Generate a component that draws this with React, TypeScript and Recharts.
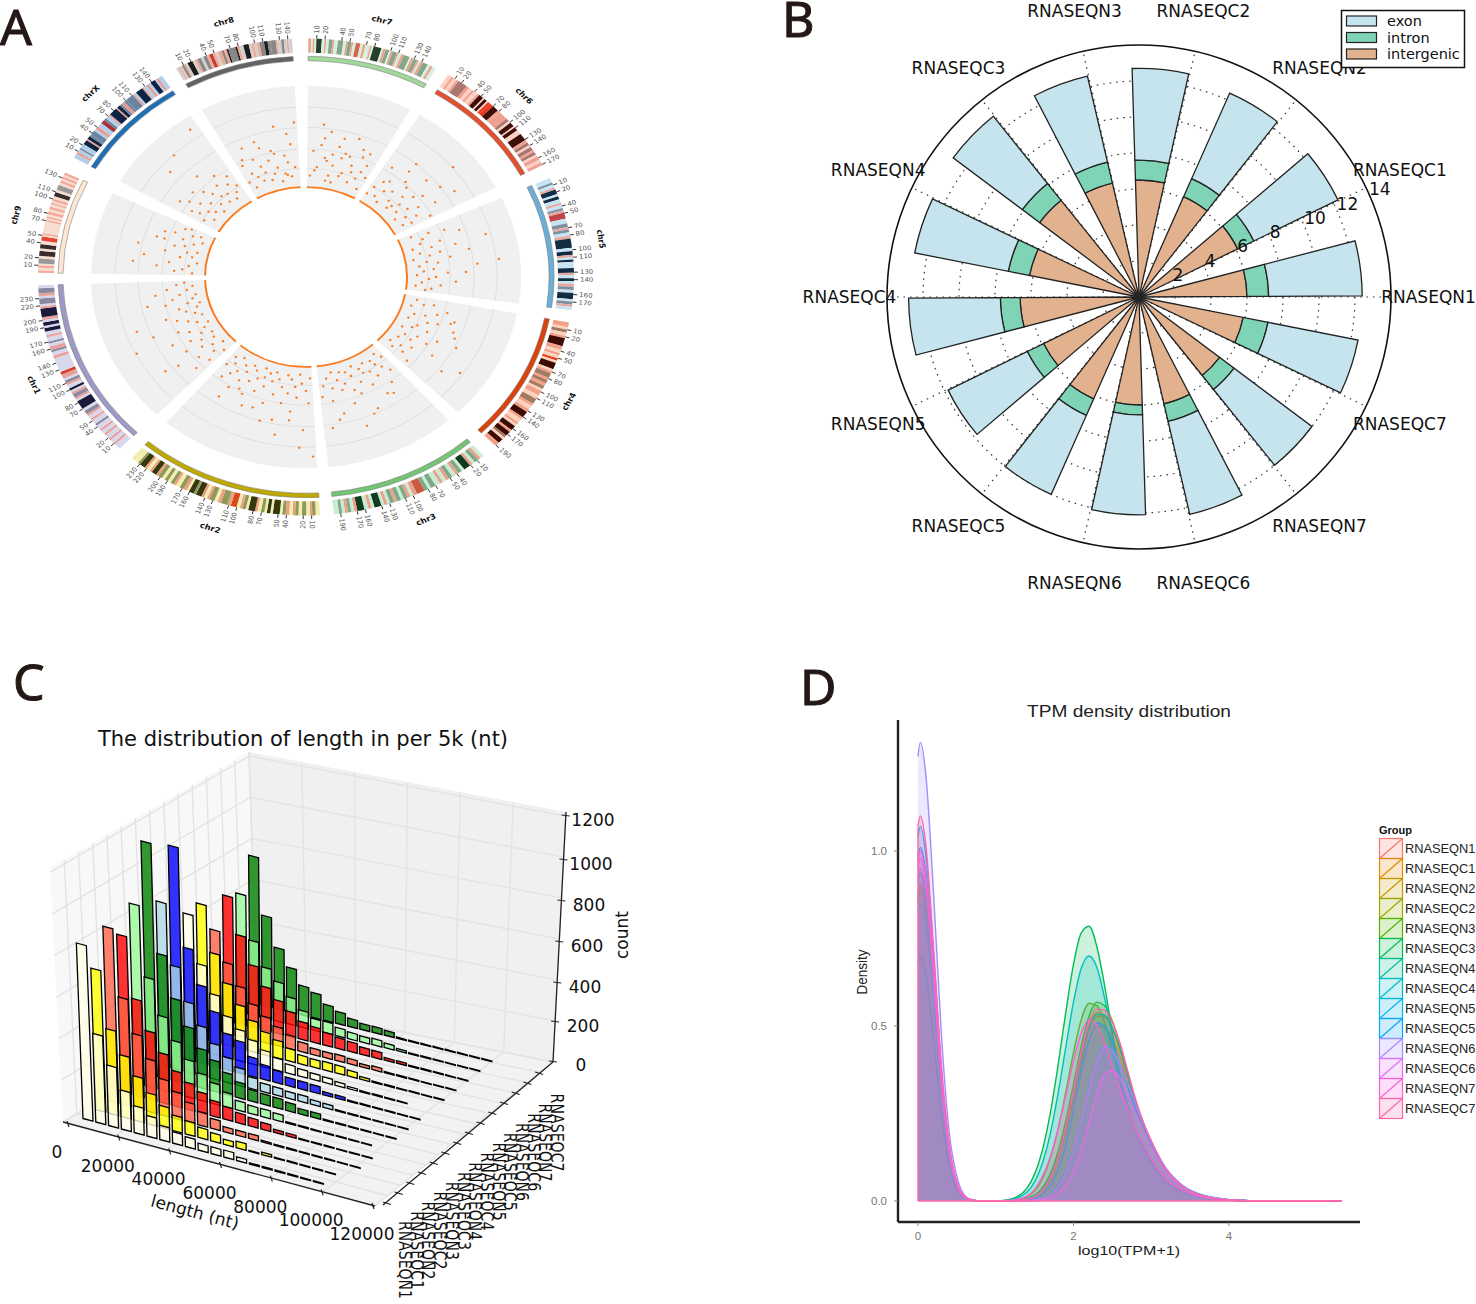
import React from 'react';
import {
  PieChart, Pie, ScatterChart, Scatter, XAxis, YAxis, RadialBarChart, RadialBar, PolarAngleAxis,
  PolarRadiusAxis, PolarGrid, AreaChart, Area, ReferenceLine,
} from 'recharts';

/* ---------- Panel A data ---------- */
const chrNames = ['chr7', 'chr6', 'chr5', 'chr4', 'chr3', 'chr2', 'chr1', 'chr9', 'chrX', 'chr8'];
const chrStart = [0.5, 32, 65.5, 101, 138.5, 177, 224, 271, 300, 331];
const chrEnd = [29, 62, 98, 135, 174, 220.5, 268, 296, 327.5, 357];
const chrLength = [159, 171, 181, 191, 198, 242, 248, 138, 155, 145];
const chrRing = ['#a1d99b', '#e2502f', '#6baed6', '#d8430f', '#74c476', '#bfa800', '#9e9ac8', '#fde6d2', '#1f6db3', '#636363'];
const ticksShort = [10, 20, 40, 50, 70, 80, 100, 110, 130, 140];
const ticksMid = [10, 20, 40, 50, 70, 80, 100, 110, 130, 140, 160, 170];
const ticksLong = [10, 20, 40, 50, 70, 80, 100, 110, 130, 140, 160, 170, 190];
const ticksFull = [10, 20, 40, 50, 70, 80, 100, 110, 130, 140, 160, 170, 190, 200, 220, 230];
const ticks9 = [10, 20, 40, 50, 70, 80, 100, 110, 130];
const chrTicks = [ticksShort, ticksMid, ticksMid, ticksLong, ticksLong, ticksFull, ticksFull, ticks9, ticksShort, ticksShort];
// band colours: base, stripe, mid, dark, red
const chrShades = [
  ['#d5f0dd', '#e8a48e', '#86a58b', '#22402a', '#d9654a'],
  ['#fdd0c4', '#f0a090', '#a87870', '#400e08', '#e83a1c'],
  ['#c6e4f2', '#e8a8a0', '#7f8fa0', '#122c44', '#c04448'],
  ['#fcd2bc', '#f2a088', '#a47a62', '#3c0c02', '#ee3a1a'],
  ['#c8ecd2', '#eba08a', '#7ea888', '#123c20', '#cc5a40'],
  ['#f3eeb0', '#eaa080', '#8f9a5a', '#34380c', '#d8481a'],
  ['#d8d8ec', '#e8a09a', '#8a88a0', '#1c1a3a', '#d8402c'],
  ['#f5ddd0', '#f3a899', '#999999', '#3a2c2c', '#e8453a'],
  ['#b3cfe8', '#e89a90', '#6b85a0', '#0c2344', '#a8303a'],
  ['#d0d0d0', '#f0a896', '#888888', '#1c1c1c', '#c83a30'],
];
const bands7 = [3,1,2,0,2,1,2,0,6,3,3,0,2,1,3,0,4,2,2,1,4,0,6,2,3,0,2,1,4,2,2,1,3,0,5,4,3,0,3,1,5,0,2,1,2,0,9,3,2,0,3,1,4,2,2,0,2,1,5,2,2,1,3,0,3,1,7,2,2,0,3,1,4,2,2,1,2,0,3,1,6,2,3,0,3,1,4,0];
const bands6 = [5,0,3,1,4,0,3,1,12,2,4,1,4,0,3,1,5,0,3,1,6,3,2,0,4,3,2,0,3,4,5,4,8,3,3,1,12,1,4,2,3,0,6,3,2,0,5,3,6,0,10,3,4,1,4,2,3,0,5,2,3,1,4,2,3,0,5,1,4,0,4,1];
const bands5 = [6,0,3,2,4,0,3,1,6,3,3,0,4,3,5,0,3,1,4,0,3,2,3,1,8,4,6,0,5,2,3,1,4,2,4,0,4,1,12,3,4,0,5,3,3,1,3,0,3,3,8,0,6,3,3,1,4,0,4,3,3,0,4,1,4,2,4,0,8,3,3,0,4,2,3,1,4,0];
const bands4 = [6,1,3,0,4,2,4,0,3,1,10,3,5,1,4,0,3,1,4,0,3,4,3,0,8,3,3,0,3,1,6,2,3,1,4,2,4,1,4,2,3,0,6,1,5,0,7,2,3,1,5,0,4,1,8,3,3,1,5,0,3,1,3,0,6,3,3,1,6,3,3,2,3,0,6,3,5,1];
const bands3 = [4,0,3,1,4,2,3,0,3,1,7,3,3,0,4,2,3,1,4,0,4,2,3,1,4,0,3,1,5,0,5,2,3,0,4,2,8,4,4,1,3,0,3,1,4,2,3,0,4,2,3,1,4,2,3,0,3,1,3,0,7,3,3,0,3,1,4,0,7,3,3,1,3,0,3,2,3,1,3,0,3,2,5,0];
const bands2 = [5,0,4,2,3,1,4,0,5,2,4,0,4,2,3,1,4,0,4,1,4,2,3,0,8,3,3,0,4,3,3,0,4,2,4,0,3,1,8,3,3,0,4,2,3,1,4,0,7,4,4,1,8,2,4,1,4,0,6,2,3,1,4,0,3,1,7,3,3,2,6,3,3,0,4,1,5,2,5,0,3,1,4,2,4,0,4,2,4,0,5,2,3,1,6,3,3,1,4,0,3,1,7,3,3,2,4,0,5,0];
const bands1 = [8,0,3,1,5,0,3,1,6,0,3,1,5,0,3,1,6,0,3,2,6,0,3,1,5,0,3,1,5,2,4,0,12,3,3,0,3,1,5,2,3,1,3,0,3,3,5,0,3,1,4,2,3,0,6,1,4,4,20,0,4,1,5,0,3,2,5,1,4,0,3,2,6,0,3,1,5,0,5,3,3,0,5,3,3,0,4,1,12,3,3,1,3,0,8,2,3,0,4,1,7,2,4,0];
const bands9 = [3,1,3,0,3,1,2,0,6,2,3,0,6,3,3,0,5,3,4,0,5,4,2,0,2,1,14,0,2,1,2,0,2,1,3,0,3,1,3,0,3,1,3,0,2,1,2,0,3,1,3,0,5,3,3,0,6,2,3,0,3,1,2,0,3,1,2,0,3,1];
const bands10 = [6,0,3,1,4,0,2,2,6,0,6,3,2,1,4,3,3,2,6,2,3,0,4,1,6,0,5,4,3,2,5,0,2,1,10,3,2,1,4,3,3,2,4,1,3,2,10,2,2,1,3,0,9,3,2,1,4,0,3,1,3,0,6,3,2,0,3,1,5,0];
const bands8 = [3,0,2,1,2,0,3,2,2,1,2,0,6,3,3,0,3,1,4,2,3,0,4,2,3,1,4,4,3,1,3,0,4,1,3,2,3,1,2,3,8,2,2,3,3,1,4,0,6,3,3,0,3,1,3,0,3,1,5,2,4,3,3,2,6,2,2,1,4,0,3,2,3,0,2,1,4,0];
const chrBands = [bands7, bands6, bands5, bands4, bands3, bands2, bands1, bands9, bands10, bands8];

const dots7 = [3,40,5,22,7,55,9,30,11,14,13,48,15,36,17,20,19,62,21,12,23,44,25,28,27,9,4,18,6,70,8,33,10,8,12,26,14,58,16,16,18,40,20,31,22,52,24,19,26,37,28,24,2,12,6,47,11,38,16,42,21,24,25,50,13,7,9,63];
const dots6 = [34,20,35,48,37,12,38,34,40,8,41,55,42,27,44,17,45,40,46,10,47,30,48,60,49,22,50,38,51,14,52,46,53,25,54,8,55,35,56,18,57,52,58,28,59,11,60,20,36,30,39,22,43,44,47,15,50,90,57,75,53,66,41,66,33,10,61,40];
const dots5 = [67,12,68,30,69,46,70,22,71,60,72,18,73,38,74,9,75,28,76,52,77,15,78,35,79,24,80,7,81,44,82,20,83,31,84,12,85,70,86,26,87,16,88,40,89,9,90,28,91,21,92,48,93,14,94,33,95,8,96,24,97,18,75,84,84,92,88,58,79,64];
const dots4 = [103,12,104,30,105,20,106,45,107,8,108,36,109,55,110,25,111,14,112,40,113,30,114,10,115,62,116,22,117,34,118,18,119,48,120,9,121,28,122,40,123,16,124,24,125,52,126,12,127,30,128,70,129,20,130,8,131,26,132,14,133,36,110,52,118,68,125,86,113,58];
const dots3 = [140,15,141,32,142,8,143,24,144,44,145,18,146,12,147,30,148,52,149,22,150,10,151,36,152,20,153,14,154,62,155,28,156,8,157,40,158,18,159,34,160,12,161,48,162,24,163,10,164,30,165,18,166,56,167,8,168,26,169,40,170,14,171,70,172,22,173,34,160,76,168,62,156,66,146,55];
const dots2 = [178,12,179,40,180,26,181,70,182,18,183,8,184,34,185,22,186,50,187,14,188,30,189,10,190,42,191,24,192,62,193,16,194,34,195,9,196,20,197,46,198,12,199,28,200,18,201,8,202,36,203,22,204,56,205,14,206,28,207,10,208,40,209,20,210,32,211,14,212,44,213,24,214,8,215,30,216,18,217,38,218,12,219,24,182,90,186,60,190,78,196,66,200,54,178,100,206,44,213,58];
const dots1 = [225,14,226,32,227,48,228,22,229,8,230,38,231,18,232,60,233,28,234,12,235,44,236,24,237,10,238,34,239,20,240,52,241,14,242,30,243,8,244,40,245,18,246,65,247,26,248,10,249,36,250,16,251,46,252,24,253,12,254,30,255,8,256,20,257,42,258,14,259,34,260,10,261,26,262,50,263,18,264,38,265,12,266,28,267,20,243,88,233,74,250,78,258,60];
const dots9 = [272,12,273,30,274,22,275,48,276,16,277,36,278,8,279,62,280,26,281,14,282,42,283,20,284,10,285,34,286,24,287,54,288,16,289,28,290,8,291,38,292,20,293,12,294,30,295,24,276,72,283,70,287,46,290,48];
const dots10 = [302,18,303,34,304,26,305,10,306,42,307,20,308,32,309,14,310,46,311,24,312,8,313,38,314,16,315,30,316,55,317,22,318,12,319,34,320,20,321,44,322,10,323,28,324,16,325,36,326,22,311,78,325,100,316,88,304,50];
const dots8 = [332,18,333,38,334,10,335,26,336,56,337,20,338,40,339,14,340,30,341,22,342,50,343,12,344,34,345,18,346,44,347,24,348,8,349,70,350,16,351,36,352,28,353,12,354,48,355,22,356,72,334,44,341,58,347,40,351,14,353,60];
const chrDots = [dots7, dots6, dots5, dots4, dots3, dots2, dots1, dots9, dots10, dots8];

/* ---------- Panel B data ---------- */
const sampleNames = ['RNASEQN1','RNASEQC1','RNASEQN2','RNASEQC2','RNASEQN3','RNASEQC3','RNASEQN4','RNASEQC4','RNASEQN5','RNASEQC5','RNASEQN6','RNASEQC6','RNASEQN7','RNASEQC7'];
const intergenic = [6.0,6.1,6.1,6.5,6.5,6.9,6.2,6.6,5.9,6.2,6.0,6.1,5.6,5.9];
const intron = [1.2,1.0,1.1,1.1,1.2,1.2,1.2,1.1,1.0,1.0,0.55,1.0,1.0,1.4];
const exon = [5.2,5.2,5.2,5.1,4.9,4.8,5.3,5.1,4.9,4.8,5.55,5.3,5.4,5.1];
const radialTicks = [2,4,6,8,10,12,14];

/* ---------- Panel C data ---------- */
const rowColors = ['#ffffe6','#ffff00','#ff6347','#ff0000','#98fb98','#008000','#add8e6','#0000ff','#ffffe6','#ffff00','#ff6347','#ff0000','#98fb98','#008000'];
const lenN1 = [852,430,294,190,131,100,70,55,48,33,33,34,18,6,6,5,5,4,4];
const lenC1 = [687,410,300,215,150,105,75,65,50,40,25,32,4,12,4,5,4,4,3];
const lenN2 = [847,520,360,255,175,130,95,65,48,24,24,24,7,5,5,4,4,4,3,3];
const lenC2 = [765,470,330,240,170,130,100,75,62,48,40,33,15,14,4,4,4,3,3,3];
const lenN3 = [872,530,360,255,180,130,100,70,45,38,38,33,6,5,4,4,4,3,3];
const lenC3 = [1130,600,400,280,190,150,105,75,55,50,48,40,25,25,5,5,4,4,3,3];
const lenN4 = [795,500,340,240,170,120,85,55,40,38,32,32,22,20,5,5,4,4,3,3];
const lenC4 = [1023,543,378,267,175,155,92,70,58,39,38,35,15,15,5,5,4,4,3,3];
const lenN5 = [650,420,290,200,150,115,80,58,42,35,30,26,18,10,5,5,4,3];
const lenC5 = [655,430,300,210,150,110,85,60,42,38,40,38,28,12,5,5,4,4,3,3];
const lenN6 = [485,340,240,170,125,90,65,45,30,28,30,25,14,18,5,5,4,3,3,3];
const lenC6 = [607,430,300,210,160,120,85,75,62,52,47,35,33,12,12,5,5,4,3,3];
const lenN7 = [573,360,245,190,130,80,55,55,40,32,28,30,22,10,5,5,4,3,3,3];
const lenC7 = [713,437,296,214,141,121,78,58,39,29,29,24,5,5,4,4,4,4,3,3];
const lengthRows = [lenN1,lenC1,lenN2,lenC2,lenN3,lenC3,lenN4,lenC4,lenN5,lenC5,lenN6,lenC6,lenN7,lenC7];
const lengthTicks = [0,20000,40000,60000,80000,100000,120000];
const countTicks = [0,200,400,600,800,1000,1200];

/* ---------- Panel D data ---------- */
const tpmX = [0,0.03,0.1,0.2,0.3,0.4,0.5,0.6,0.7,0.8,1.0,1.2,1.4,1.6,1.7,1.8,1.9,2.0,2.1,2.2,2.3,2.4,2.5,2.6,2.7,2.8,2.9,3.0,3.2,3.4,3.6,3.8,4.0,4.5,5.45];
const dN1 = [.92,.95,.88,.63,.34,.14,.045,.01,.002,0,0,.001,.006,.03,.062,.115,.19,.285,.385,.46,.50,.495,.465,.41,.34,.27,.215,.165,.085,.04,.018,.008,.003,0,0];
const dC1 = [.88,.91,.85,.6,.33,.135,.043,.01,.002,0,0,.001,.005,.028,.06,.115,.195,.295,.40,.485,.528,.525,.49,.43,.355,.28,.22,.17,.085,.04,.018,.008,.003,0,0];
const dN2 = [.87,.90,.84,.6,.32,.135,.042,.01,.002,0,0,.001,.005,.03,.065,.12,.205,.31,.415,.5,.538,.532,.495,.43,.355,.28,.22,.168,.085,.04,.018,.008,.003,0,0];
const dC2 = [.865,.894,.83,.6,.32,.13,.042,.01,.002,0,0,.002,.012,.063,.12,.203,.31,.424,.518,.565,.558,.51,.43,.335,.265,.205,.16,.12,.06,.028,.013,.005,.002,0,0];
const dN3 = [.85,.88,.82,.59,.31,.13,.04,.01,.002,0,0,.001,.007,.038,.077,.14,.228,.334,.442,.528,.568,.558,.514,.445,.362,.277,.215,.165,.08,.04,.018,.007,.003,0,0];
const dC3 = [.68,.70,.65,.47,.25,.105,.033,.008,.001,0,0,.006,.036,.145,.249,.385,.538,.676,.766,.785,.727,.616,.48,.36,.27,.20,.15,.11,.055,.025,.012,.005,.002,0,0];
const dN4 = [.91,.937,.87,.63,.34,.14,.044,.01,.002,0,0,.001,.006,.032,.068,.125,.21,.31,.415,.495,.533,.53,.495,.435,.36,.285,.222,.17,.086,.04,.018,.008,.003,0,0];
const dC4 = [.825,.85,.79,.57,.31,.125,.04,.009,.002,0,0,.004,.025,.108,.19,.305,.438,.568,.665,.70,.668,.58,.465,.345,.27,.205,.155,.115,.058,.027,.012,.005,.002,0,0];
const dN5 = [1.04,1.07,.99,.71,.38,.16,.05,.012,.002,0,0,0,.001,.008,.02,.045,.085,.15,.235,.325,.405,.442,.43,.39,.335,.275,.22,.17,.09,.045,.022,.01,.004,0,0];
const dC5 = [.98,1.01,.94,.67,.36,.15,.047,.011,.002,0,0,0,.003,.02,.045,.09,.16,.26,.37,.46,.508,.5,.45,.39,.325,.26,.205,.16,.082,.04,.02,.009,.004,0,0];
const dN6 = [1.27,1.31,1.22,.88,.48,.2,.07,.016,.003,0,0,0,.001,.007,.018,.04,.08,.145,.23,.32,.40,.44,.428,.388,.335,.275,.22,.17,.09,.045,.02,.01,.004,0,0];
const dC6 = [.95,.98,.91,.64,.34,.14,.044,.01,.002,0,0,0,0,.003,.008,.02,.045,.085,.145,.225,.305,.362,.372,.35,.30,.25,.2,.155,.08,.04,.018,.008,.003,0,0];
const dN7 = [.97,1.0,.93,.67,.37,.155,.05,.012,.002,0,0,.002,.014,.07,.125,.205,.30,.40,.48,.518,.50,.45,.385,.32,.26,.205,.16,.12,.06,.03,.014,.006,.002,0,0];
const dC7 = [1.07,1.10,1.02,.72,.39,.165,.052,.012,.002,0,0,.001,.005,.03,.065,.122,.21,.315,.425,.51,.548,.545,.51,.45,.37,.29,.225,.172,.088,.042,.02,.008,.003,0,0];
const densityRows = [dN1,dC1,dN2,dC2,dN3,dC3,dN4,dC4,dN5,dC5,dN6,dC6,dN7,dC7];
const hueColors = ['#F8766D','#E38900','#C49A00','#99A800','#53B400','#00BC56','#00C094','#00BFC4','#00B6EB','#06A4FF','#A58AFF','#DF70F8','#FB61D7','#FF66A8'];

/* ---------- Helpers ---------- */
const HELV = '"Liberation Sans", Arial, sans-serif';
const DJ = '"DejaVu Sans", sans-serif';
const full = (w: number, h: number) => ({ width: w, height: h, margin: { top: 0, right: 0, bottom: 0, left: 0 } });

function segments(mkFill: (i: number) => string, edge = 'none') {
  const out: any[] = [];
  chrNames.forEach((name, i) => {
    out.push({ name, value: chrEnd[i] - chrStart[i], fill: mkFill(i), stroke: edge });
    const next = i < chrNames.length - 1 ? chrStart[i + 1] : 360 + chrStart[0];
    out.push({ name: 'gap', value: next - chrEnd[i], fill: 'none', stroke: 'none' });
  });
  return out;
}
const rad = Math.PI / 180;

function TickLabel(p: any) {
  if (p.index >= p.tickCount) return null;
  const a = p.endAngle;
  const theta = ((90 - a) % 360 + 360) % 360;
  const px = (r: number) => p.cx + r * Math.cos(a * rad);
  const py = (r: number) => p.cy - r * Math.sin(a * rad);
  const right = theta < 180;
  const rot = right ? theta - 90 : theta + 90;
  return (
    <g>
      <line x1={px(268)} y1={py(268)} x2={px(272)} y2={py(272)} stroke="#111" strokeWidth={0.9} />
      <text transform={`translate(${px(274)},${py(274)}) rotate(${rot})`} textAnchor={right ? 'start' : 'end'} dominantBaseline="central" fontSize={7} fontFamily={DJ} fill="#555">{p.payload.tick}</text>
    </g>
  );
}
function ChrLabel(p: any) {
  if (p.payload.name === 'gap') return null;
  const a = p.midAngle;
  const theta = ((90 - a) % 360 + 360) % 360;
  const x = p.cx + 298 * Math.cos(a * rad);
  const y = p.cy - 298 * Math.sin(a * rad);
  const rot = theta > 90 && theta < 270 ? theta - 180 : theta > 270 ? theta - 360 : theta;
  return <text transform={`translate(${x},${y}) rotate(${rot})`} textAnchor="middle" dominantBaseline="central" fontSize={8.5} fontWeight="bold" fontFamily={DJ} fill="#111">{p.payload.name}</text>;
}

function PanelA() {
  const size = 660, c = 330;
  const pts = chrDots.flatMap((arr) => {
    const out: any[] = [];
    for (let i = 0; i < arr.length; i += 2) {
      const th = arr[i] * rad, r = 102 + arr[i + 1];
      out.push({ sx: r * Math.sin(th), sy: r * Math.cos(th) });
    }
    return out;
  });
  const wrap: React.CSSProperties = { position: 'absolute', left: 306 - c, top: 277 - c, width: size, height: size, transform: 'scaleY(0.89)' };
  const sa = 90 - chrStart[0];
  return (
    <>
      <div style={wrap}>
        <PieChart {...full(size, size)}>
          <Pie data={segments(() => '#f0f0f0')} dataKey="value" cx={c} cy={c} innerRadius={102} outerRadius={215} startAngle={sa} endAngle={sa - 360} stroke="none" isAnimationActive={false} />
          {[122, 144, 168, 191].map((r) => (
            <Pie key={r} data={segments(() => '#dfdfdf')} dataKey="value" cx={c} cy={c} innerRadius={r - 0.5} outerRadius={r + 0.5} startAngle={sa} endAngle={sa - 360} stroke="none" isAnimationActive={false} />
          ))}
          <Pie data={segments(() => '#f97a1f')} dataKey="value" cx={c} cy={c} innerRadius={100} outerRadius={102} startAngle={sa} endAngle={sa - 360} stroke="none" isAnimationActive={false} />
          <Pie data={segments((i) => chrRing[i], '#777')} dataKey="value" cx={c} cy={c} innerRadius={243} outerRadius={248} startAngle={sa} endAngle={sa - 360} strokeWidth={0.6} isAnimationActive={false} />
          {chrNames.map((n, i) => {
            const arr = chrBands[i];
            const d: any[] = [];
            for (let j = 0; j < arr.length; j += 2) d.push({ value: arr[j], fill: chrShades[i][arr[j + 1]] });
            return <Pie key={n} data={d} dataKey="value" cx={c} cy={c} innerRadius={252} outerRadius={268} startAngle={90 - chrStart[i]} endAngle={90 - chrEnd[i]} stroke="none" isAnimationActive={false} />;
          })}
          {chrNames.map((n, i) => {
            const t = chrTicks[i];
            const d = t.map((v, j) => ({ value: v - (j ? t[j - 1] : 0), tick: v }));
            d.push({ value: chrLength[i] - t[t.length - 1], tick: 0 });
            return (
              <Pie key={n + 't'} data={d} dataKey="value" cx={c} cy={c} innerRadius={268} outerRadius={269} startAngle={90 - chrStart[i]} endAngle={90 - chrEnd[i]} fill="none" stroke="none" isAnimationActive={false} labelLine={false}
                label={(p: any) => <TickLabel {...p} tickCount={t.length} />} />
            );
          })}
          <Pie data={segments(() => 'none')} dataKey="value" cx={c} cy={c} innerRadius={290} outerRadius={291} startAngle={sa} endAngle={sa - 360} stroke="none" isAnimationActive={false} labelLine={false}
            label={(p: any) => <ChrLabel {...p} />} />
        </PieChart>
      </div>
      <div style={wrap}>
        <ScatterChart {...full(size, size)}>
          <XAxis type="number" dataKey="sx" domain={[-c, c]} hide />
          <YAxis type="number" dataKey="sy" domain={[-c, c]} hide />
          <Scatter data={pts} fill="#f97a1f" isAnimationActive={false} shape={(p: any) => <circle cx={p.cx} cy={p.cy} r={1.3} fill="#f97a1f" />} />
        </ScatterChart>
      </div>
    </>
  );
}

function PanelB() {
  const size = 700, c = 350, step = 360 / 14, width = 14.3, shift = width / 2;
  const data = sampleNames.map((name, i) => ({ name, intergenic: intergenic[i], intron: intron[i], exon: exon[i] }));
  const angles = sampleNames.map((_, i) => i * step);
  const angleTick = (p: any) => {
    const a = (p.index * step) * rad;
    return <text x={c + 289.5 * Math.cos(a)} y={c - 293 * Math.sin(a)} textAnchor="middle" dominantBaseline="central" fontSize={17} fontFamily={DJ} fill="#111">{p.payload.value}</text>;
  };
  const radiusTick = (p: any) => {
    const v = p.payload.value;
    return <text x={p.x + (v < 10 ? 1 : 3)} y={p.y - 8 + 0.7 * v} textAnchor="start" dominantBaseline="central" fontSize={17} fontFamily={DJ} fill="#111">{v}</text>;
  };
  // the band of the first category sits one step before the chart's start angle
  const start = shift - step / 2 + step;
  return (
    <div style={{ position: 'absolute', left: 1139 - c, top: 297 - c }}>
      <RadialBarChart {...full(size, size)} data={data} layout="centric" cx={c} cy={c} innerRadius={0} outerRadius={252} startAngle={start} endAngle={360 + start} barSize={width}>
        <PolarAngleAxis type="category" dataKey="name" tick={angleTick} axisLine={false} tickLine={false} />
        <PolarRadiusAxis type="number" domain={[0, 14]} ticks={radialTicks} angle={step} tick={radiusTick} axisLine={false} tickLine={false} />
        <RadialBar dataKey="intergenic" stackId="s" fill="#e2b28e" stroke="#222" strokeWidth={1.3} isAnimationActive={false} />
        <RadialBar dataKey="intron" stackId="s" fill="#7fd4b5" stroke="#222" strokeWidth={1.3} isAnimationActive={false} />
        <RadialBar dataKey="exon" stackId="s" fill="#c5e4ee" stroke="#222" strokeWidth={1.3} isAnimationActive={false} />
        <PolarGrid gridType="circle" polarRadius={[36, 72, 108, 144, 180, 216]} polarAngles={angles} stroke="#333" strokeDasharray="1.5 5" strokeWidth={1.2} />
        <PolarGrid gridType="circle" polarRadius={[252]} polarAngles={[]} radialLines={false} stroke="#111" strokeWidth={1.6} />
      </RadialBarChart>
    </div>
  );
}

const OFFY = 700;
type P = [number, number];
const A: P = [63, 1122 - OFFY], B: P = [375, 1206 - OFFY], C: P = [553, 1062 - OFFY], D: P = [257, 1003 - OFFY];
const At: P = [50, 868 - OFFY], Ct: P = [566, 812 - OFFY], Dt: P = [249, 752 - OFFY];
const mix = (a: P, b: P, t: number): P => [a[0] + (b[0] - a[0]) * t, a[1] + (b[1] - a[1]) * t];
const poly = (...ps: P[]) => ps.map((p) => p.join(',')).join(' ');

function Bar3D(p: any) {
  const h = p.payload.count * 0.206;
  const tilt = (p.cx - 308) * 0.042 * (h / 250);
  const w = 10, wy = 2.7;
  return (
    <polygon points={poly([p.cx, p.cy], [p.cx + w, p.cy + wy], [p.cx + w + tilt, p.cy + wy - h], [p.cx + tilt, p.cy - h])}
      fill={p.color} fillOpacity={0.8} stroke="#000" strokeWidth={1.3} strokeLinejoin="miter" />
  );
}

function PanelC() {
  const W = 640, H = 604;
  const rows = lengthRows.map((vals, i) => {
    const t = i / 13;
    return vals.map((count, k) => ({
      length: k * 5000, row: sampleNames[i], count,
      sx: (83 + 12.8 * k) * (1 - t) + (250 + 12.2 * k) * t,
      sy: (1118.5 + 3.5 * k) * (1 - t) + (1002 + 3 * k) * t - OFFY,
    }));
  });
  const grid = '#e3e3e3';
  const seg = (a: P, b: P, s: string, w: number, key: string) => <line key={key} x1={a[0]} y1={a[1]} x2={b[0]} y2={b[1]} stroke={s} strokeWidth={w} />;
  const lines: any[] = [];
  countTicks.forEach((v) => {
    const t = v / 1220;
    lines.push(seg(mix(A, At, t), mix(D, Dt, t), grid, 1.4, 'l' + v));
    lines.push(seg(mix(D, Dt, t), mix(C, Ct, t), grid, 1.4, 'b' + v));
  });
  lengthTicks.forEach((v) => {
    const t = v / 120000;
    lines.push(seg(mix(A, B, t), mix(D, C, t), grid, 1.4, 'f' + v));
    lines.push(seg(mix(D, C, t), mix(Dt, Ct, t), grid, 1.4, 'w' + v));
  });
  sampleNames.forEach((n, i) => {
    const t = (i + 1) / 14;
    lines.push(seg(mix(A, D, t), mix(B, C, t), grid, 1.4, 'g' + n));
    lines.push(seg(mix(A, D, t), mix(At, Dt, t), grid, 1.4, 'v' + n));
  });
  const xTick = (v: number): P => [68 + (v / 120000) * 305, 1124 - OFFY + (v / 120000) * 82];
  const yTick = (i: number): P => [387 + 11.7 * i, 1203 - OFFY - 10 * i];
  const zTick = (i: number): P => [553 + i * 2.1, [1061, 1021, 982, 941, 900, 859, 815][i] - OFFY];
  const txt = { fontFamily: DJ, fontSize: 17, fill: '#111' };
  return (
    <div style={{ position: 'absolute', left: 0, top: OFFY }}>
      <ScatterChart {...full(W, H)}>
        <XAxis type="number" dataKey="sx" domain={[0, W]} hide />
        <YAxis type="number" dataKey="sy" domain={[0, H]} reversed hide />
        <polygon points={poly(A, D, Dt, At)} fill="#f8f8f8" />
        <polygon points={poly(D, C, Ct, Dt)} fill="#f0f0f0" />
        <polygon points={poly(A, B, C, D)} fill="#f2f2f2" />
        {lines}
        {rows.map((r, i) => rows[13 - i]).map((r, j) => {
          const i = 13 - j;
          return <Scatter key={i} name={sampleNames[i]} data={r} isAnimationActive={false} shape={(p: any) => <Bar3D {...p} color={rowColors[i]} />} />;
        })}
        {seg(A, B, '#222', 1.3, 'ax')}
        {seg([383, 1205 - OFFY], C, '#222', 1.3, 'ay')}
        {seg(C, [566, 812 - OFFY], '#222', 1.3, 'az')}
        {lengthTicks.map((v) => {
          const [x, y] = xTick(v);
          return (
            <g key={v}>
              <line x1={x - 1} y1={y - 3} x2={x + 1} y2={y + 3} stroke="#222" strokeWidth={1.2} />
              <text x={x - 11} y={y + 28} textAnchor="middle" dominantBaseline="central" {...txt}>{v}</text>
            </g>
          );
        })}
        {sampleNames.map((n, i) => {
          const [x, y] = yTick(i);
          return (
            <g key={n}>
              <line x1={x - 4} y1={y - 1} x2={x + 4} y2={y + 1.5} stroke="#222" strokeWidth={1.2} />
              <text transform={`translate(${x + 18},${y + 18 + i * 0.2}) rotate(90)`} textAnchor="start" dominantBaseline="central" textLength={78} lengthAdjust="spacingAndGlyphs" {...txt}>{n}</text>
            </g>
          );
        })}
        {countTicks.map((v, i) => {
          const [x, y] = zTick(i);
          return (
            <g key={v}>
              <line x1={x - 4} y1={y} x2={x + 4} y2={y + 1} stroke="#222" strokeWidth={1.2} />
              <text x={581 + i * 2} y={y + 4 + (i ? 1 : 0)} textAnchor="middle" dominantBaseline="central" {...txt}>{v}</text>
            </g>
          );
        })}
        <text x={303} y={739 - OFFY} textAnchor="middle" dominantBaseline="central" fontFamily={DJ} fontSize={21} fill="#111">The distribution of length in per 5k (nt)</text>
        <text transform={`translate(195,${1212 - OFFY}) rotate(15)`} textAnchor="middle" dominantBaseline="central" {...txt}>length (nt)</text>
        <text transform={`translate(622,${935 - OFFY}) rotate(-90)`} textAnchor="middle" dominantBaseline="central" {...txt}>count</text>
      </ScatterChart>
    </div>
  );
}

function PanelD() {
  const data = tpmX.map((x, i) => {
    const row: any = { x };
    sampleNames.forEach((n, s) => { row[n] = densityRows[s][i]; });
    return row;
  });
  const left = 838, top = 690;
  const tickStyle = { fontSize: 11.5, fontFamily: HELV, fill: '#777' };
  return (
    <div style={{ position: 'absolute', left, top }}>
      <AreaChart width={540} height={575} data={data} margin={{ top: 30, right: 18, bottom: 13, left: 20 }}>
        <XAxis dataKey="x" type="number" domain={[-0.257, 5.685]} ticks={[0, 2, 4]} allowDataOverflow tick={tickStyle} tickSize={4} tickMargin={6} tickLine={{ stroke: '#888' }} axisLine={{ stroke: '#222', strokeWidth: 2.4 }} height={30} />
        <YAxis type="number" domain={[-0.06, 1.374]} ticks={[0, 0.5, 1]} allowDataOverflow tickFormatter={(v: number) => v.toFixed(1)} tick={tickStyle} tickSize={4} tickMargin={7} tickLine={{ stroke: '#888' }} axisLine={{ stroke: '#222', strokeWidth: 2.4 }} width={40} />
        {sampleNames.map((n, i) => (
          <Area key={n} dataKey={n} type="monotone" stroke={hueColors[i]} strokeWidth={1.4} fill={hueColors[i]} fillOpacity={0.2} dot={false} activeDot={false} isAnimationActive={false} />
        ))}
        <ReferenceLine segment={[{ x: 0, y: 0 }, { x: 5.45, y: 0 }]} stroke="#FF66A8" strokeWidth={1.5} />
        <ReferenceLine segment={[{ x: 0, y: 0 }, { x: 0, y: 1.07 }]} stroke="#FF66A8" strokeWidth={1.4} />
        <text x={1129 - left} y={711 - top} textAnchor="middle" dominantBaseline="central" fontFamily={HELV} fontSize={16} fill="#222" textLength={204} lengthAdjust="spacingAndGlyphs">TPM density distribution</text>
        <text x={1129 - left} y={1250 - top} textAnchor="middle" dominantBaseline="central" fontFamily={HELV} fontSize={13.5} fill="#222" textLength={102} lengthAdjust="spacingAndGlyphs">log10(TPM+1)</text>
        <text transform={`translate(${861 - left},${972 - top}) rotate(-90)`} textAnchor="middle" dominantBaseline="central" fontFamily={HELV} fontSize={15} fill="#222" textLength={45} lengthAdjust="spacingAndGlyphs">Density</text>
      </AreaChart>
    </div>
  );
}

function Overlays() {
  const legendB = [['exon', '#c5e4ee', 21], ['intron', '#7fd4b5', 37.5], ['intergenic', '#e2b28e', 54]] as const;
  const letter = { fontFamily: '"Noto Sans", sans-serif', fontSize: 50, fill: '#231815', stroke: '#231815', strokeWidth: 1 };
  return (
    <svg width={1476} height={1304} style={{ position: 'absolute', left: 0, top: 0, pointerEvents: 'none' }}>
      <text x={0} y={45} {...letter}>A</text>
      <text x={782} y={37} {...letter}>B</text>
      <text x={13} y={700} {...letter}>C</text>
      <text x={800} y={705} {...letter}>D</text>
      <rect x={1341.5} y={10.5} width={123} height={57} fill="#fff" stroke="#111" strokeWidth={1.5} />
      {legendB.map(([n, col, y]) => (
        <g key={n}>
          <rect x={1346.5} y={y - 5} width={30} height={10} fill={col} stroke="#222" strokeWidth={1.2} />
          <text x={1387} y={y} dominantBaseline="central" fontFamily={DJ} fontSize={14.5} fill="#111">{n}</text>
        </g>
      ))}
      <text x={1379} y={830} dominantBaseline="central" fontFamily={HELV} fontSize={11} fontWeight="bold" fill="#111">Group</text>
      {sampleNames.map((n, i) => {
        const y = 838.5 + i * 20;
        return (
          <g key={n}>
            <rect x={1379.5} y={y} width={23} height={20} fill={hueColors[i]} fillOpacity={0.2} stroke={hueColors[i]} strokeWidth={1.2} />
            <line x1={1379.5} y1={y + 20} x2={1402.5} y2={y} stroke={hueColors[i]} strokeWidth={1.2} />
            <text x={1405} y={y + 9.5} dominantBaseline="central" fontFamily={HELV} fontSize={12.8} fill="#222">{n}</text>
          </g>
        );
      })}
    </svg>
  );
}

export default function App() {
  return (
    <div style={{ position: 'absolute', left: 0, top: 0, width: 1476, height: 1304, overflow: 'hidden', background: '#fff' }}>
      <PanelA />
      <PanelB />
      <PanelC />
      <PanelD />
      <Overlays />
    </div>
  );
}
